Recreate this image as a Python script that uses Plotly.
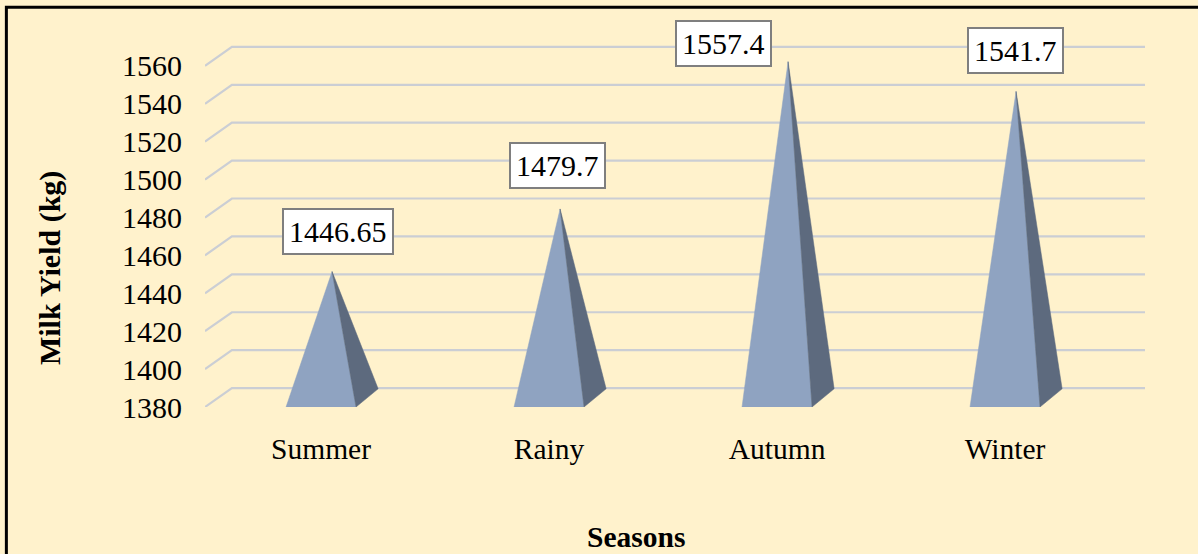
import plotly.graph_objects as go

# ---- data ----
seasons = ["Summer", "Rainy", "Autumn", "Winter"]
milk_yield = [1446.65, 1479.7, 1557.4, 1541.7]
value_labels = ["1446.65", "1479.7", "1557.4", "1541.7"]
y_ticks = [1380, 1400, 1420, 1440, 1460, 1480, 1500, 1520, 1540, 1560]

# ---- styling / geometry ----
BASE = 1380            # floor of the value axis
HALF_W = 0.1535        # half width of a pyramid base (category units)
DEPTH_X = 0.097        # 3D depth offset (category units)
DEPTH_Y = 9.6          # 3D depth offset (value units)
GRID_DX = 0.118
GRID_DY = 10.0
X_RANGE = [-0.509, 3.614]
Y_RANGE = [1380, 1590]

FRONT = "#8FA3C1"
SIDE = "#5D6A7E"
GRID = "#CBCED4"
FONT = "Liberation Serif"

# label box nudges (pixels) relative to each apex
label_shift = [(6, 17), (-3, 20), (-65, -5), (-1, 17)]

fig = go.Figure()

xs = list(range(len(seasons)))
for i, v in zip(xs, milk_yield):
    # apex sits at mid-depth of the pyramid
    apex_x = i + DEPTH_X / 2
    apex_y = v + DEPTH_Y / 2
    # front face
    fig.add_trace(go.Scatter(
        x=[i - HALF_W, i + HALF_W, apex_x, i - HALF_W],
        y=[BASE, BASE, apex_y, BASE],
        fill="toself", fillcolor=FRONT, mode="lines",
        line=dict(color=FRONT, width=0.5), hoverinfo="skip", showlegend=False))
    # right side face
    fig.add_trace(go.Scatter(
        x=[i + HALF_W, i + HALF_W + DEPTH_X, apex_x, i + HALF_W],
        y=[BASE, BASE + DEPTH_Y, apex_y, BASE],
        fill="toself", fillcolor=SIDE, mode="lines",
        line=dict(color=SIDE, width=0.5), hoverinfo="skip", showlegend=False))

# perspective gridlines (front edge slants back, then runs along the back wall)
shapes = []
for t in y_ticks:
    x0 = X_RANGE[0]
    shapes.append(dict(
        type="path", xref="x", yref="y", layer="below",
        path=f"M {x0},{t} L {x0 + GRID_DX},{t + GRID_DY} L {X_RANGE[1]},{t + GRID_DY}",
        line=dict(color=GRID, width=2.2)))

# outer chart border
shapes.append(dict(type="rect", xref="paper", yref="paper",
                   x0=-0.2113, x1=1.07, y0=-0.40, y1=1.0045,
                   line=dict(color="black", width=3), layer="above"))

annotations = []
for i, (v, txt, (sx, sy)) in enumerate(zip(milk_yield, value_labels, label_shift)):
    annotations.append(dict(
        x=i + DEPTH_X / 2, y=v + DEPTH_Y / 2, xref="x", yref="y", text=txt,
        showarrow=False, xanchor="center", yanchor="bottom",
        xshift=sx, yshift=sy, bgcolor="white", bordercolor="#7F7F7F",
        borderwidth=2, borderpad=5, font=dict(family=FONT, size=30, color="black")))

annotations.append(dict(
    x=-0.1649, y=0.349, xref="paper", yref="paper", text="<b>Milk Yield (kg)</b>",
    textangle=-90, showarrow=False, xanchor="center", yanchor="middle",
    font=dict(family=FONT, size=30, color="black")))
annotations.append(dict(
    x=0.4585, y=-0.3266, xref="paper", yref="paper", text="<b>Seasons</b>",
    showarrow=False, xanchor="center", yanchor="middle",
    font=dict(family=FONT, size=29.5, color="black")))

fig.update_layout(
    width=1198, height=554,
    margin=dict(l=205, r=53, t=9, b=147),
    paper_bgcolor="#FFF2CC", plot_bgcolor="#FFF2CC",
    shapes=shapes, annotations=annotations,
    showlegend=False,
    xaxis=dict(range=X_RANGE, tickmode="array", tickvals=xs, ticktext=seasons,
               showgrid=False, zeroline=False, showline=False, ticks="",
               ticklabelstandoff=21,
               tickfont=dict(family=FONT, size=29.5, color="black"), fixedrange=True),
    yaxis=dict(range=Y_RANGE, tickmode="array", tickvals=y_ticks,
               ticktext=[str(t) for t in y_ticks],
               showgrid=False, zeroline=False, showline=False, ticks="",
               ticklabelstandoff=22,
               tickfont=dict(family=FONT, size=30, color="black"), fixedrange=True),
)

fig.write_html("out.html")
